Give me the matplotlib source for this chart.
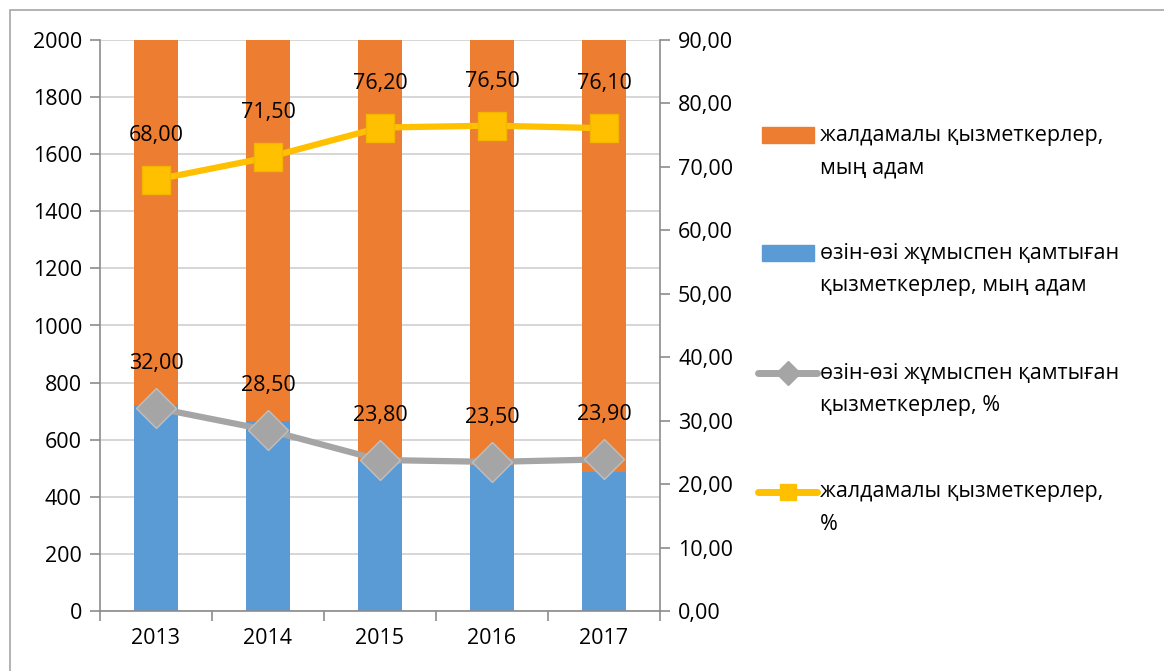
import matplotlib.pyplot as plt
import numpy as np
from matplotlib.lines import Line2D
from matplotlib.patches import Rectangle

plt.rcParams['font.family'] = ['Open Sans', 'DejaVu Sans']

years = ["2013", "2014", "2015", "2016", "2017"]
self_employed_k = [720, 667, 525, 510, 488]       # мың адам
hired_k = [1530, 1670, 1680, 1660, 1550]           # мың адам (tops clipped at 2000)
self_employed_pct = [32.00, 28.50, 23.80, 23.50, 23.90]
hired_pct = [68.00, 71.50, 76.20, 76.50, 76.10]

lbl_hired_k = ["жалдамалы қызметкерлер,", "мың адам"]
lbl_self_k = ["өзін-өзі жұмыспен қамтыған", "қызметкерлер, мың адам"]
lbl_self_pct = ["өзін-өзі жұмыспен қамтыған", "қызметкерлер, %"]
lbl_hired_pct = ["жалдамалы қызметкерлер,", "%"]

C_BLUE = "#5B9BD5"
C_ORANGE = "#ED7D31"
C_GRAY = "#A5A5A5"
C_YELLOW = "#FFC000"
C_AXIS = "#8C8C8C"
C_GRID = "#D0D0D0"
FS = 15.5

W, H = 1164, 671
fig = plt.figure(figsize=(W / 100, H / 100), dpi=100)
ax = fig.add_axes([100 / W, 1 - 611 / H, 560 / W, 571 / H])
ax2 = ax.twinx()

# outer frame of the chart area
fig.patches.append(Rectangle((10 / W, -0.1), 1.2, 1 - 10 / H + 0.1,
                             transform=fig.transFigure, fill=False,
                             edgecolor="#A6A6A6", linewidth=1.2))

x = np.arange(len(years))
bw = 0.4
ax.bar(x, self_employed_k, width=bw, color=C_BLUE, zorder=2)
ax.bar(x, hired_k, width=bw, bottom=self_employed_k, color=C_ORANGE, zorder=2)

ax.set_xlim(-0.5, len(years) - 0.5)
ax.set_ylim(0, 2000)
ax.set_yticks(np.arange(0, 2001, 200))
ax.grid(axis="y", color=C_GRID, linewidth=1.2, zorder=0)
ax.set_axisbelow(True)
ax.set_xticks(x)
ax.set_xticklabels(years)
ax.set_xticks(np.arange(-0.5, len(years)), minor=True)
ax.tick_params(axis="x", which="major", length=0, pad=12, labelsize=FS)
ax.tick_params(axis="x", which="minor", length=7, color=C_AXIS, width=1.2)
ax.tick_params(axis="y", length=7, color=C_AXIS, width=1.2, labelsize=FS, pad=6)

for s in ("top", "right"):
    ax.spines[s].set_visible(False)
for s in ("left", "bottom"):
    ax.spines[s].set_color(C_AXIS)
    ax.spines[s].set_linewidth(1.2)

ax2.plot(x, self_employed_pct, color=C_GRAY, linewidth=4.5,
         marker="D", markersize=20, markerfacecolor=C_GRAY,
         markeredgecolor="#BFBFBF", zorder=3)
ax2.plot(x, hired_pct, color=C_YELLOW, linewidth=4.5,
         marker="s", markersize=20, markerfacecolor=C_YELLOW,
         markeredgecolor="#F2B600", zorder=3)

for series in (self_employed_pct, hired_pct):
    for xi, v in zip(x, series):
        ax2.annotate(f"{v:.2f}".replace(".", ","), (xi, v), xytext=(0, 32),
                     textcoords="offset points", ha="center", va="center",
                     fontsize=FS)

ax2.set_ylim(0, 90)
ax2.set_yticks(np.arange(0, 91, 10))
ax2.set_yticklabels([f"{t:.2f}".replace(".", ",") for t in np.arange(0, 91, 10)])
ax2.tick_params(axis="y", length=7, color=C_AXIS, width=1.2, labelsize=FS, pad=6)
for s in ("top", "left", "bottom"):
    ax2.spines[s].set_visible(False)
ax2.spines["right"].set_color(C_AXIS)
ax2.spines["right"].set_linewidth(1.2)


# legend drawn by hand: handle sits on the first text line, as in the original
def fx(px):
    return px / W


def fy(py):
    return 1 - py / H


entries = [
    ("patch", C_ORANGE, None, lbl_hired_k, 135),
    ("patch", C_BLUE, None, lbl_self_k, 253),
    ("line", C_GRAY, "D", lbl_self_pct, 373),
    ("line", C_YELLOW, "s", lbl_hired_pct, 492),
]
for kind, color, mk, lines, y0 in entries:
    if kind == "patch":
        fig.patches.append(Rectangle((fx(762), fy(y0 + 8)), fx(52), 16 / H,
                                     transform=fig.transFigure, color=color))
    else:
        fig.lines.append(Line2D([fx(758), fx(817)], [fy(y0), fy(y0)],
                                transform=fig.transFigure, color=color,
                                linewidth=5, solid_capstyle="round"))
        fig.lines.append(Line2D([fx(788)], [fy(y0)], transform=fig.transFigure,
                                marker=mk, markersize=12, color=color,
                                linestyle="none"))
    for i, line in enumerate(lines):
        fig.text(fx(820), fy(y0 + 33 * i), line, ha="left", va="center", fontsize=FS)

fig.savefig("out.png", dpi=100)
